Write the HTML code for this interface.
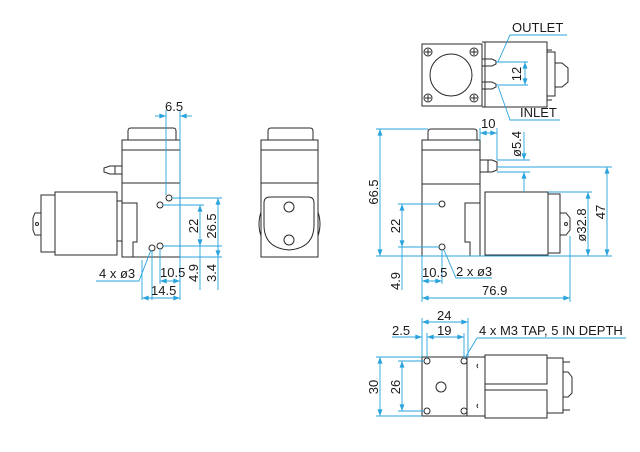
<!DOCTYPE html>
<html><head><meta charset="utf-8"><style>
html,body{margin:0;padding:0;background:#fff;}
svg{display:block;}
text{font-family:"Liberation Sans",sans-serif;font-size:13px;fill:#1a1a1a;}
.k{fill:none;stroke:#2a2a2a;stroke-width:1;}
.b{fill:none;stroke:#29a3dc;stroke-width:0.9;}
</style></head><body>
<svg width="640" height="452" viewBox="0 0 640 452" xmlns="http://www.w3.org/2000/svg">
<defs>
<marker id="a" viewBox="0 0 8 6" refX="8" refY="3" markerWidth="7" markerHeight="5" orient="auto-start-reverse" markerUnits="userSpaceOnUse"><path d="M0,0 L8,3 L0,6z" fill="#29a3dc"/></marker>
</defs>

<!-- ===== LEFT VIEW ===== -->
<g class="k">
<path d="M128,140 V131 Q128,128 131,128 H173 Q176,128 176,131 V140"/>
<rect x="122" y="140" width="58" height="117"/>
<line x1="122" y1="150" x2="180" y2="150"/>
<line x1="122" y1="183" x2="180" y2="183"/>
<path d="M122,203 H137 V242 H133 V257"/>
<path d="M122,166 H110 L104,168 V172 L110,174 H122" />
<line x1="115" y1="166" x2="115" y2="174"/>
<rect x="55" y="192" width="62" height="63"/>
<rect x="41" y="195" width="14" height="57"/>
<rect x="117" y="201" width="5" height="40"/>
<path d="M41,213 H35 L33,218 V230 L35,235 H41"/>
<circle cx="37" cy="224" r="1.5"/>
<circle cx="169" cy="198" r="3"/><circle cx="160" cy="205" r="3"/>
<circle cx="152" cy="248" r="3"/><circle cx="160" cy="246" r="3"/>
</g>
<g class="b">
<line x1="166" y1="110" x2="166" y2="195"/><line x1="180" y1="110" x2="180" y2="300"/>
<line x1="155" y1="116" x2="166" y2="116" marker-end="url(#a)"/><line x1="192" y1="116" x2="180" y2="116" marker-end="url(#a)"/>
<line x1="172" y1="198" x2="222" y2="198"/><line x1="163" y1="205" x2="204" y2="205"/>
<line x1="163" y1="246" x2="222" y2="246"/><line x1="180" y1="257" x2="222" y2="257"/>
<line x1="200" y1="205" x2="200" y2="246" marker-start="url(#a)" marker-end="url(#a)"/>
<line x1="200" y1="246" x2="200" y2="290"/>
<line x1="218" y1="198" x2="218" y2="257" marker-start="url(#a)" marker-end="url(#a)"/>
<line x1="218" y1="257" x2="218" y2="290"/>
<line x1="160" y1="249" x2="160" y2="284"/>
<line x1="160" y1="281" x2="180" y2="281" marker-start="url(#a)" marker-end="url(#a)"/>
<line x1="142" y1="260" x2="142" y2="300"/><line x1="152" y1="251" x2="152" y2="300"/>
<line x1="142" y1="298" x2="180" y2="298" marker-start="url(#a)" marker-end="url(#a)"/>
<polyline points="96,281 139,281 151,250"/>
</g>
<text x="165" y="111">6.5</text>
<text x="160" y="277" font-size="12">10.5</text>
<text x="151" y="295">14.5</text>
<text x="99" y="278">4 x ø3</text>
<text transform="translate(198,226) rotate(-90)" text-anchor="middle">22</text>
<text transform="translate(216,226) rotate(-90)" text-anchor="middle">26.5</text>
<text transform="translate(198,273) rotate(-90)" text-anchor="middle">4.9</text>
<text transform="translate(216,273) rotate(-90)" text-anchor="middle">3.4</text>

<!-- ===== MIDDLE VIEW ===== -->
<g class="k">
<path d="M268,140 V131 Q268,128 271,128 H310 Q313,128 313,131 V140"/>
<rect x="261" y="140" width="57" height="117"/>
<line x1="261" y1="150" x2="318" y2="150"/>
<line x1="261" y1="183" x2="318" y2="183"/>
<path d="M264,203 Q264,197 270,197 H308 Q314,197 314,203 V225 Q314,248 289,250 Q264,248 264,225 Z"/>
<path d="M261,212 Q257,224 261,236"/><path d="M318,212 Q322,224 318,236"/>
<circle cx="289" cy="207" r="5"/><circle cx="289" cy="240" r="5"/>
</g>

<!-- ===== RIGHT VIEW ===== -->
<g class="k">
<path d="M428,140 V132 Q428,129 431,129 H474 Q477,129 477,132 V140"/>
<rect x="422" y="140" width="58" height="116"/>
<line x1="422" y1="150" x2="480" y2="150"/>
<line x1="422" y1="184" x2="480" y2="184"/>
<path d="M480,184 V203 H465 V242 H470 V256"/>
<path d="M480,160 H492 L497,162 V170 L492,172 H480"/>
<line x1="488" y1="160" x2="488" y2="172"/>
<rect x="485" y="192" width="63" height="63"/>
<rect x="548" y="194" width="12" height="59"/>
<path d="M560,213 H566 L570,218 V230 L566,235 H560"/>
<circle cx="566" cy="224" r="1.5"/>
<circle cx="442" cy="204" r="3"/><circle cx="442" cy="247" r="3"/>
</g>
<g class="b">
<line x1="376" y1="129" x2="428" y2="129"/><line x1="376" y1="256" x2="612" y2="256"/>
<line x1="380" y1="129" x2="380" y2="256" marker-start="url(#a)" marker-end="url(#a)"/>
<line x1="398" y1="204" x2="439" y2="204"/><line x1="398" y1="247" x2="439" y2="247"/>
<line x1="402" y1="204" x2="402" y2="247" marker-start="url(#a)" marker-end="url(#a)"/>
<line x1="402" y1="247" x2="402" y2="290"/>
<line x1="422" y1="256" x2="422" y2="302"/><line x1="442" y1="250" x2="442" y2="284"/>
<line x1="422" y1="281" x2="442" y2="281" marker-start="url(#a)" marker-end="url(#a)"/>
<polyline points="444,250 456,278 492,278"/>
<line x1="480" y1="128" x2="480" y2="140"/><line x1="497" y1="128" x2="497" y2="160"/>
<line x1="480" y1="133" x2="497" y2="133" marker-start="url(#a)" marker-end="url(#a)"/>
<line x1="497" y1="160" x2="530" y2="160"/><line x1="497" y1="167" x2="612" y2="167"/><line x1="497" y1="172" x2="530" y2="172"/>
<line x1="524" y1="132" x2="524" y2="160" marker-end="url(#a)"/>
<line x1="524" y1="192" x2="524" y2="172" marker-end="url(#a)"/>
<line x1="548" y1="192" x2="592" y2="192"/>
<line x1="588" y1="192" x2="588" y2="256" marker-start="url(#a)" marker-end="url(#a)"/>
<line x1="607" y1="167" x2="607" y2="256" marker-start="url(#a)" marker-end="url(#a)"/>
<line x1="570" y1="236" x2="570" y2="302"/>
<line x1="422" y1="298" x2="570" y2="298" marker-start="url(#a)" marker-end="url(#a)"/>
</g>
<text x="481" y="128">10</text>
<text x="422" y="277" font-size="12">10.5</text>
<text x="456" y="276">2 x ø3</text>
<text x="482" y="295">76.9</text>
<text transform="translate(378,192) rotate(-90)" text-anchor="middle">66.5</text>
<text transform="translate(400,226) rotate(-90)" text-anchor="middle">22</text>
<text transform="translate(400,281) rotate(-90)" text-anchor="middle">4.9</text>
<text transform="translate(521,144) rotate(-90)" text-anchor="middle">ø5.4</text>
<text transform="translate(586,225) rotate(-90)" text-anchor="middle">ø32.8</text>
<text transform="translate(605,212) rotate(-90)" text-anchor="middle">47</text>

<!-- ===== TOP VIEW ===== -->
<g class="k">
<rect x="422" y="44" width="60" height="62"/>
<circle cx="451" cy="75" r="21"/>
<g>
<circle cx="428" cy="52" r="4"/><path d="M425,52h6M428,49v6"/>
<circle cx="474" cy="52" r="4"/><path d="M471,52h6M474,49v6"/>
<circle cx="428" cy="98" r="4"/><path d="M425,98h6M428,95v6"/>
<circle cx="474" cy="98" r="4"/><path d="M471,98h6M474,95v6"/>
</g>
<rect x="485" y="42" width="62" height="65"/>
<path d="M482,42 H485 M482,107 H485"/>
<line x1="547" y1="50" x2="552" y2="50"/><line x1="547" y1="100" x2="552" y2="100"/>
<path d="M547,52 H555 V96 H547"/>
<path d="M555,63 H562 L568,68 V82 L562,87 H555"/>
<path d="M482,59 H492 L496,61 V64 L492,66 H482"/>
<path d="M482,82 H492 L496,84 V87 L492,89 H482"/>
</g>
<g class="b">
<line x1="496" y1="62" x2="528" y2="62"/><line x1="496" y1="85" x2="528" y2="85"/>
<line x1="525" y1="62" x2="525" y2="85" marker-start="url(#a)" marker-end="url(#a)"/>
<polyline points="498,62 510,35 567,35"/>
<polyline points="498,86 510,120 560,120"/>
</g>
<text x="512" y="32">OUTLET</text>
<text x="520" y="117">INLET</text>
<text transform="translate(521,74) rotate(-90)" text-anchor="middle">12</text>

<!-- ===== BOTTOM VIEW ===== -->
<g class="k">
<rect x="422" y="357" width="45" height="59"/>
<circle cx="427" cy="361" r="3"/><circle cx="464" cy="361" r="3"/>
<circle cx="427" cy="411" r="3"/><circle cx="464" cy="411" r="3"/>
<circle cx="441" cy="387" r="5"/>
<rect x="467" y="357" width="18" height="59"/>
<rect x="485" y="355" width="62" height="29"/>
<rect x="485" y="390" width="62" height="28"/>
<path d="M547,358 H563 V413 H547"/>
<path d="M563,372 H568 L572,377 V393 L568,397 H563"/>
<line x1="563" y1="362" x2="570" y2="362"/><line x1="563" y1="410" x2="570" y2="410"/>
<path d="M478,364 q-2,2 0,4 M478,404 q-2,2 0,4"/>
</g>
<g class="b">
<line x1="422" y1="318" x2="422" y2="357"/><line x1="468" y1="318" x2="468" y2="357"/>
<line x1="427" y1="333" x2="427" y2="358"/><line x1="464" y1="333" x2="464" y2="358"/>
<line x1="422" y1="322" x2="468" y2="322" marker-start="url(#a)" marker-end="url(#a)"/>
<line x1="427" y1="337" x2="464" y2="337" marker-start="url(#a)" marker-end="url(#a)"/>
<line x1="392" y1="337" x2="422" y2="337" marker-end="url(#a)"/>
<polyline points="465,358 477,338 626,338"/>
<line x1="376" y1="357" x2="422" y2="357"/><line x1="376" y1="416" x2="422" y2="416"/>
<line x1="398" y1="361" x2="424" y2="361"/><line x1="398" y1="411" x2="424" y2="411"/>
<line x1="380" y1="357" x2="380" y2="416" marker-start="url(#a)" marker-end="url(#a)"/>
<line x1="402" y1="361" x2="402" y2="411" marker-start="url(#a)" marker-end="url(#a)"/>
</g>
<text x="437" y="320">24</text>
<text x="437" y="335">19</text>
<text x="392" y="335">2.5</text>
<text x="479" y="335">4 x M3 TAP, 5 IN DEPTH</text>
<text transform="translate(378,387) rotate(-90)" text-anchor="middle">30</text>
<text transform="translate(400,387) rotate(-90)" text-anchor="middle">26</text>
</svg>
</body></html>
